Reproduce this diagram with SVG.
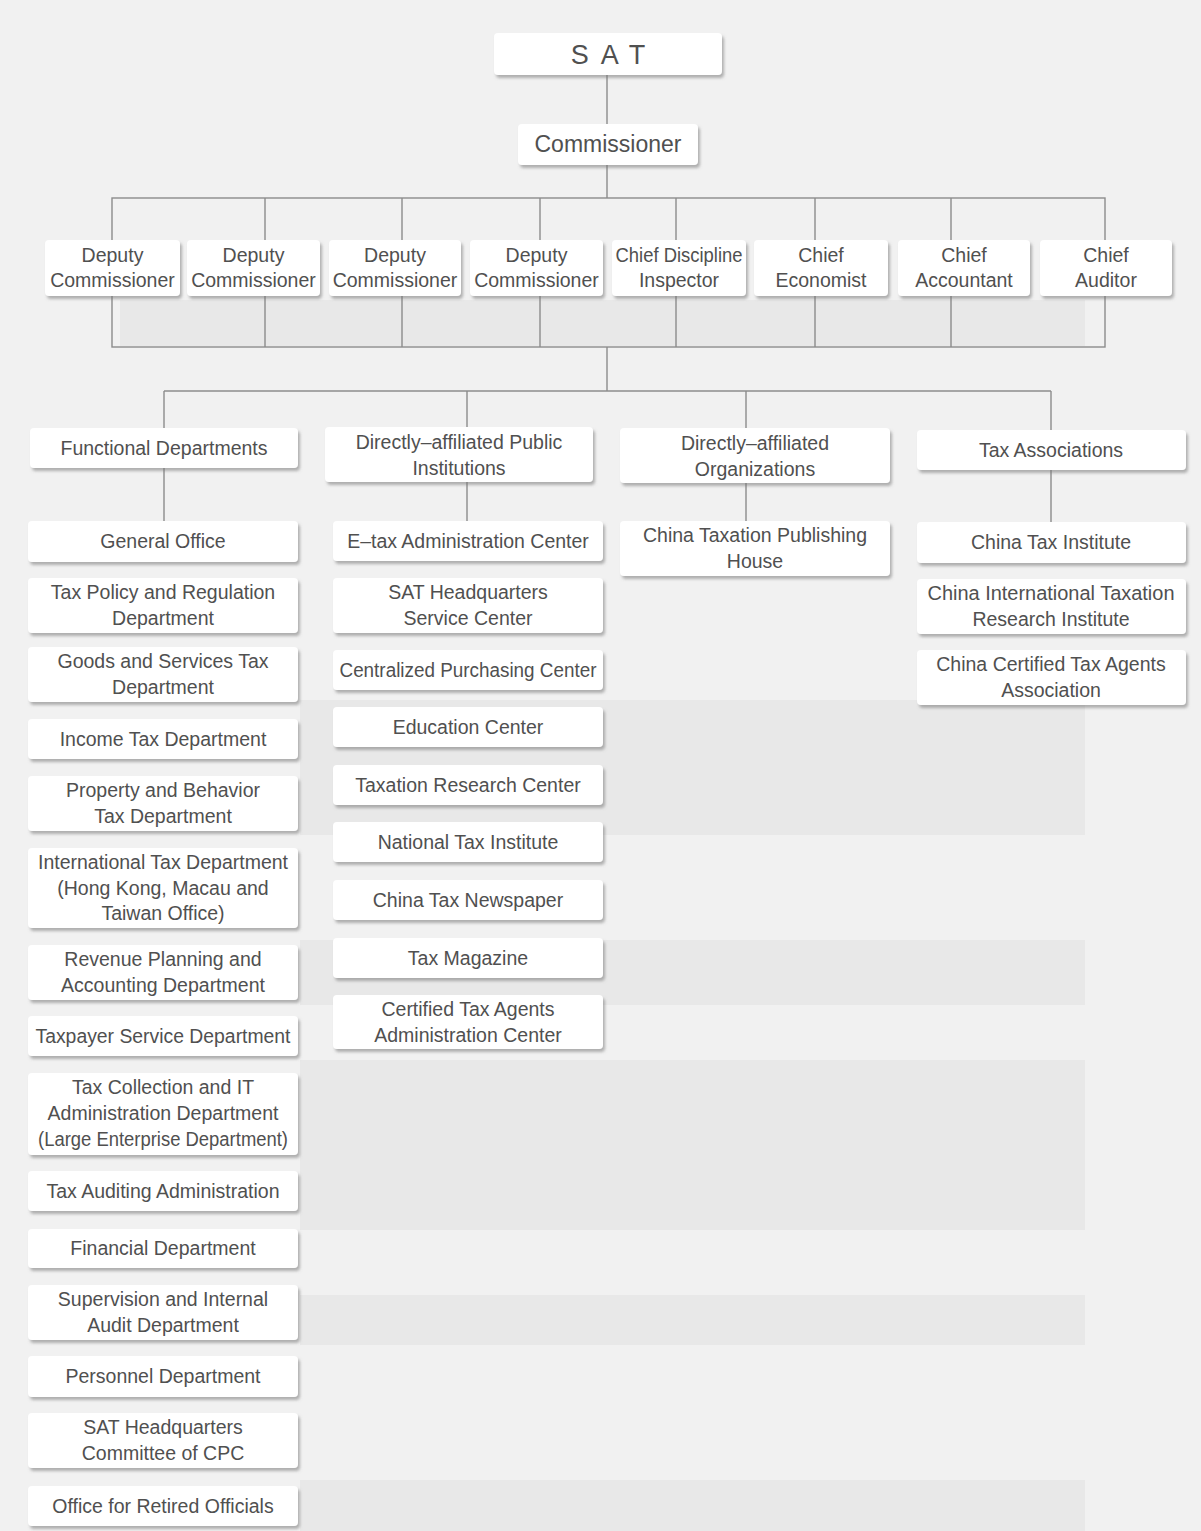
<svg xmlns="http://www.w3.org/2000/svg" width="1201" height="1531" viewBox="0 0 1201 1531">
<style>
.bg{fill:#f1f1f1}
.band{fill:#e8e8e8}
.box{fill:#ffffff;filter:url(#sh)}
.ln{stroke:#8c8c8c;stroke-width:1.4;fill:none}
text{font-family:"Liberation Sans",Arial,sans-serif;font-size:19.5px;fill:#505050;text-anchor:middle}
.big{font-size:23px}
.sat{font-size:27px;letter-spacing:12px}
</style>
<defs>
<filter id="sh" x="-10%" y="-20%" width="125%" height="160%">
<feDropShadow dx="2" dy="3" stdDeviation="1.6" flood-color="#777777" flood-opacity="0.55"/>
</filter>
</defs>
<rect class="bg" x="0" y="0" width="1201" height="1531"/>
<g id="background-bands">
<rect class="band" x="120" y="300" width="965" height="46"/>
<rect class="band" x="300" y="700" width="785" height="135"/>
<rect class="band" x="300" y="940" width="785" height="65"/>
<rect class="band" x="300" y="1060" width="785" height="170"/>
<rect class="band" x="300" y="1295" width="785" height="50"/>
<rect class="band" x="300" y="1480" width="785" height="51"/>
</g>
<g id="connectors">
<line class="ln" x1="607" y1="74" x2="607" y2="198"/>
<rect class="ln" x="112" y="198" width="993" height="149"/>
<line class="ln" x1="265" y1="198" x2="265" y2="347"/>
<line class="ln" x1="402" y1="198" x2="402" y2="347"/>
<line class="ln" x1="540" y1="198" x2="540" y2="347"/>
<line class="ln" x1="676" y1="198" x2="676" y2="347"/>
<line class="ln" x1="815" y1="198" x2="815" y2="347"/>
<line class="ln" x1="951" y1="198" x2="951" y2="347"/>
<line class="ln" x1="607" y1="347" x2="607" y2="391"/>
<line class="ln" x1="164" y1="391" x2="1051" y2="391"/>
<line class="ln" x1="164" y1="391" x2="164" y2="521"/>
<line class="ln" x1="467" y1="391" x2="467" y2="521"/>
<line class="ln" x1="746" y1="391" x2="746" y2="521"/>
<line class="ln" x1="1051" y1="391" x2="1051" y2="522"/>
</g>
<g id="sat"><rect class="box" x="494" y="33" width="228" height="42" rx="4"/><text class="sat" x="614" y="64">SAT</text></g>
<g id="commissioner"><rect class="box" x="518" y="124" width="180" height="41" rx="4"/><text class="big" x="608" y="152">Commissioner</text></g>
<g id="deputy1"><rect class="box" x="45" y="240" width="135" height="56" rx="4"/><text x="112.5" y="262">Deputy</text><text x="112.5" y="287">Commissioner</text></g>
<g id="deputy2"><rect class="box" x="187" y="240" width="133" height="56" rx="4"/><text x="253.5" y="262">Deputy</text><text x="253.5" y="287">Commissioner</text></g>
<g id="deputy3"><rect class="box" x="329" y="240" width="132" height="56" rx="4"/><text x="395" y="262">Deputy</text><text x="395" y="287">Commissioner</text></g>
<g id="deputy4"><rect class="box" x="470" y="240" width="133" height="56" rx="4"/><text x="536.5" y="262">Deputy</text><text x="536.5" y="287">Commissioner</text></g>
<g id="chief-discipline"><rect class="box" x="612" y="240" width="134" height="56" rx="4"/><text x="679" y="262" textLength="127" lengthAdjust="spacingAndGlyphs">Chief Discipline</text><text x="679" y="287">Inspector</text></g>
<g id="chief-economist"><rect class="box" x="754" y="240" width="134" height="56" rx="4"/><text x="821" y="262">Chief</text><text x="821" y="287">Economist</text></g>
<g id="chief-accountant"><rect class="box" x="898" y="240" width="132" height="56" rx="4"/><text x="964" y="262">Chief</text><text x="964" y="287">Accountant</text></g>
<g id="chief-auditor"><rect class="box" x="1040" y="240" width="132" height="56" rx="4"/><text x="1106" y="262">Chief</text><text x="1106" y="287">Auditor</text></g>
<g id="functional"><rect class="box" x="30" y="428" width="268" height="40" rx="4"/><text x="164" y="455">Functional Departments</text></g>
<g id="public-institutions"><rect class="box" x="325" y="427" width="268" height="55" rx="4"/><text x="459" y="449">Directly–affiliated Public</text><text x="459" y="475">Institutions</text></g>
<g id="organizations"><rect class="box" x="620" y="428" width="270" height="55" rx="4"/><text x="755" y="450">Directly–affiliated</text><text x="755" y="476">Organizations</text></g>
<g id="tax-associations"><rect class="box" x="917" y="430" width="269" height="40" rx="4"/><text x="1051" y="457">Tax Associations</text></g>
<g id="general-office"><rect class="box" x="28" y="521" width="270" height="41" rx="4"/><text x="163" y="548">General Office</text></g>
<g id="tax-policy"><rect class="box" x="28" y="578" width="270" height="55" rx="4"/><text x="163" y="599">Tax Policy and Regulation</text><text x="163" y="625">Department</text></g>
<g id="goods-services"><rect class="box" x="28" y="647" width="270" height="55" rx="4"/><text x="163" y="668">Goods and Services Tax</text><text x="163" y="694">Department</text></g>
<g id="income-tax"><rect class="box" x="28" y="719" width="270" height="40" rx="4"/><text x="163" y="746">Income Tax Department</text></g>
<g id="property-behavior"><rect class="box" x="28" y="776" width="270" height="55" rx="4"/><text x="163" y="797">Property and Behavior</text><text x="163" y="823">Tax Department</text></g>
<g id="international-tax"><rect class="box" x="28" y="848" width="270" height="80" rx="4"/><text x="163" y="869">International Tax Department</text><text x="163" y="895">(Hong Kong, Macau and</text><text x="163" y="920">Taiwan Office)</text></g>
<g id="revenue-planning"><rect class="box" x="28" y="945" width="270" height="55" rx="4"/><text x="163" y="966">Revenue Planning and</text><text x="163" y="992">Accounting Department</text></g>
<g id="taxpayer-service"><rect class="box" x="28" y="1016" width="270" height="40" rx="4"/><text x="163" y="1043" textLength="255" lengthAdjust="spacingAndGlyphs">Taxpayer Service Department</text></g>
<g id="tax-collection"><rect class="box" x="28" y="1073" width="270" height="82" rx="4"/><text x="163" y="1094">Tax Collection and IT</text><text x="163" y="1120">Administration Department</text><text x="163" y="1146" textLength="250" lengthAdjust="spacingAndGlyphs">(Large Enterprise Department)</text></g>
<g id="tax-auditing"><rect class="box" x="28" y="1171" width="270" height="40" rx="4"/><text x="163" y="1198">Tax Auditing Administration</text></g>
<g id="financial"><rect class="box" x="28" y="1229" width="270" height="39" rx="4"/><text x="163" y="1255">Financial Department</text></g>
<g id="supervision"><rect class="box" x="28" y="1285" width="270" height="55" rx="4"/><text x="163" y="1306">Supervision and Internal</text><text x="163" y="1332">Audit Department</text></g>
<g id="personnel"><rect class="box" x="28" y="1356" width="270" height="41" rx="4"/><text x="163" y="1383">Personnel Department</text></g>
<g id="cpc-committee"><rect class="box" x="28" y="1413" width="270" height="55" rx="4"/><text x="163" y="1434">SAT Headquarters</text><text x="163" y="1460">Committee of CPC</text></g>
<g id="retired-officials"><rect class="box" x="28" y="1486" width="270" height="40" rx="4"/><text x="163" y="1513">Office for Retired Officials</text></g>
<g id="etax-center"><rect class="box" x="333" y="521" width="270" height="40" rx="4"/><text x="468" y="548">E–tax Administration Center</text></g>
<g id="hq-service"><rect class="box" x="333" y="578" width="270" height="55" rx="4"/><text x="468" y="599">SAT Headquarters</text><text x="468" y="625">Service Center</text></g>
<g id="purchasing"><rect class="box" x="333" y="650" width="270" height="40" rx="4"/><text x="468" y="677" textLength="257" lengthAdjust="spacingAndGlyphs">Centralized Purchasing Center</text></g>
<g id="education"><rect class="box" x="333" y="707" width="270" height="40" rx="4"/><text x="468" y="734">Education Center</text></g>
<g id="research-center"><rect class="box" x="333" y="765" width="270" height="40" rx="4"/><text x="468" y="792">Taxation Research Center</text></g>
<g id="national-institute"><rect class="box" x="333" y="822" width="270" height="40" rx="4"/><text x="468" y="849">National Tax Institute</text></g>
<g id="newspaper"><rect class="box" x="333" y="880" width="270" height="40" rx="4"/><text x="468" y="907">China Tax Newspaper</text></g>
<g id="magazine"><rect class="box" x="333" y="938" width="270" height="40" rx="4"/><text x="468" y="965">Tax Magazine</text></g>
<g id="agents-admin"><rect class="box" x="333" y="995" width="270" height="54" rx="4"/><text x="468" y="1016">Certified Tax Agents</text><text x="468" y="1042">Administration Center</text></g>
<g id="publishing-house"><rect class="box" x="620" y="521" width="270" height="55" rx="4"/><text x="755" y="542">China Taxation Publishing</text><text x="755" y="568">House</text></g>
<g id="china-tax-institute"><rect class="box" x="917" y="522" width="269" height="41" rx="4"/><text x="1051" y="549">China Tax Institute</text></g>
<g id="intl-research"><rect class="box" x="917" y="579" width="269" height="55" rx="4"/><text x="1051" y="600" textLength="247" lengthAdjust="spacingAndGlyphs">China International Taxation</text><text x="1051" y="626">Research Institute</text></g>
<g id="agents-association"><rect class="box" x="917" y="650" width="269" height="55" rx="4"/><text x="1051" y="671">China Certified Tax Agents</text><text x="1051" y="697">Association</text></g>
</svg>
